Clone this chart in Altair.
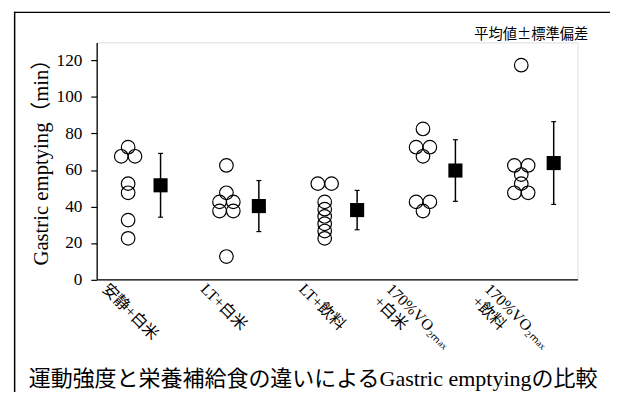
import altair as alt
import pandas as pd

# ---- data ----
groups = ["安静+白米", "LT+白米", "LT+飲料", "170%VO₂ₘₐₓ\n+白米", "170%VO₂ₘₐₓ\n+飲料"]
g1 = [72.5, 67.5, 67.5, 52.5, 47.5, 32.5, 22.5]
g2 = [62.5, 47.5, 42.5, 42.5, 37.5, 37.5, 12.5]
g3 = [52.5, 52.5, 42.5, 38.5, 34.5, 30.5, 26.5, 22.5]
g4 = [82.5, 72.5, 72.5, 67.5, 42.5, 42.5, 37.5]
g5 = [117.5, 62.5, 62.5, 57.5, 52.5, 47.5, 47.5]
means = [51.6, 40.2, 38.0, 59.7, 63.8]
sds = [17.5, 14.0, 10.8, 16.9, 22.7]
y_ticks = [0, 20, 40, 60, 80, 100, 120]
y_title = "Gastric emptying（min）"
chart_title = "運動強度と栄養補給食の違いによるGastric emptyingの比較"
note = "平均値±標準偏差"

# ---- layout constants ----
W, H = 488, 240.5
CIRCLE_OFF, SQUARE_OFF, PAIR = 0.32, 0.65, 0.07
SERIF = "Liberation Serif, Times New Roman, Noto Sans CJK JP"
CJK = "Noto Sans CJK JP, Liberation Serif"

rows = []
for i, vals in enumerate([g1, g2, g3, g4, g5]):
    seen = {}
    for v in vals:
        n = vals.count(v)
        k = seen.get(v, 0)
        seen[v] = k + 1
        off = 0 if n == 1 else (-PAIR if k == 0 else PAIR)
        rows.append({"pos": i + CIRCLE_OFF + off, "value": v})
pts = pd.DataFrame(rows)

summ = pd.DataFrame({
    "pos": [i + SQUARE_OFF for i in range(len(groups))],
    "mean": means,
    "lo": [m - s for m, s in zip(means, sds)],
    "hi": [m + s for m, s in zip(means, sds)],
})

labs = pd.DataFrame({
    "pos": [i + (0.03 if "\n" in g else 0.14) for i, g in enumerate(groups)],
    "label": groups,
})

xs = alt.Scale(domain=[0, W / 99.75], nice=False, zero=False)
ys = alt.Scale(domain=[0, 130], nice=False)

one = pd.DataFrame({"a": [0]})

circles = alt.Chart(pts).mark_point(
    shape="circle", filled=False, size=190, strokeWidth=1.2, color="black", opacity=1
).encode(
    x=alt.X("pos:Q", scale=xs, axis=alt.Axis(labels=False, ticks=False, grid=False, title=None,
                                            domainColor="black", domainWidth=1.3)),
    y=alt.Y("value:Q", scale=ys, axis=alt.Axis(
        values=y_ticks, grid=False, title=y_title, titleFont=SERIF, titleFontSize=21,
        titleFontWeight="normal", titleColor="black", titlePadding=5,
        titleAngle=270, titleAlign="left", titleY=226,
        labelFont="Liberation Serif", labelFontSize=17.5, labelColor="black", labelPadding=9,
        tickSize=6, tickColor="black", tickWidth=1.2, domainColor="black", domainWidth=1.3)),
)

err = alt.Chart(summ).mark_rule(color="black", strokeWidth=1.5).encode(
    x=alt.X("pos:Q", scale=xs), y=alt.Y("lo:Q", scale=ys), y2="hi:Q")
cap_hi = alt.Chart(summ).mark_tick(orient="horizontal", size=5, thickness=1.2, color="black", opacity=1).encode(
    x=alt.X("pos:Q", scale=xs), y=alt.Y("hi:Q", scale=ys))
cap_lo = alt.Chart(summ).mark_tick(orient="horizontal", size=5, thickness=1.2, color="black", opacity=1).encode(
    x=alt.X("pos:Q", scale=xs), y=alt.Y("lo:Q", scale=ys))
squares = alt.Chart(summ).mark_point(shape="square", filled=True, size=205, color="black", opacity=1).encode(
    x=alt.X("pos:Q", scale=xs), y=alt.Y("mean:Q", scale=ys))

labels = alt.Chart(labs).mark_text(
    angle=45, align="left", baseline="top", lineBreak="\n", fontSize=16, lineHeight=18,
    font=SERIF, color="black"
).encode(x=alt.X("pos:Q", scale=xs), y=alt.value(H + 1.5), text="label:N")

title_txt = alt.Chart(one).mark_text(
    align="left", baseline="middle", fontSize=22.3, font=SERIF, color="black", text=chart_title
).encode(x=alt.value(-69), y=alt.value(341.8))

note_txt = alt.Chart(one).mark_text(
    align="center", baseline="middle", fontSize=14.5, font=CJK, color="black", text=note
).encode(x=alt.value(441), y=alt.value(-7))

frame_left = alt.Chart(one).mark_rule(color="black", strokeWidth=1.5).encode(
    x=alt.value(-83.25), y=alt.value(-31.2), y2=alt.value(354.8))
frame_top = alt.Chart(one).mark_rule(color="black", strokeWidth=1.5).encode(
    x=alt.value(-84), x2=alt.value(521), y=alt.value(-30.45))

chart = alt.layer(
    frame_left, frame_top, circles, err, cap_hi, cap_lo, squares, labels, title_txt, note_txt
).properties(
    width=W, height=H, padding={"left": 5, "top": 0, "right": 0, "bottom": 0}
).configure_view(stroke=None).configure(background="white")

chart.save("out.html", embed_options={"renderer": "svg", "actions": False})
